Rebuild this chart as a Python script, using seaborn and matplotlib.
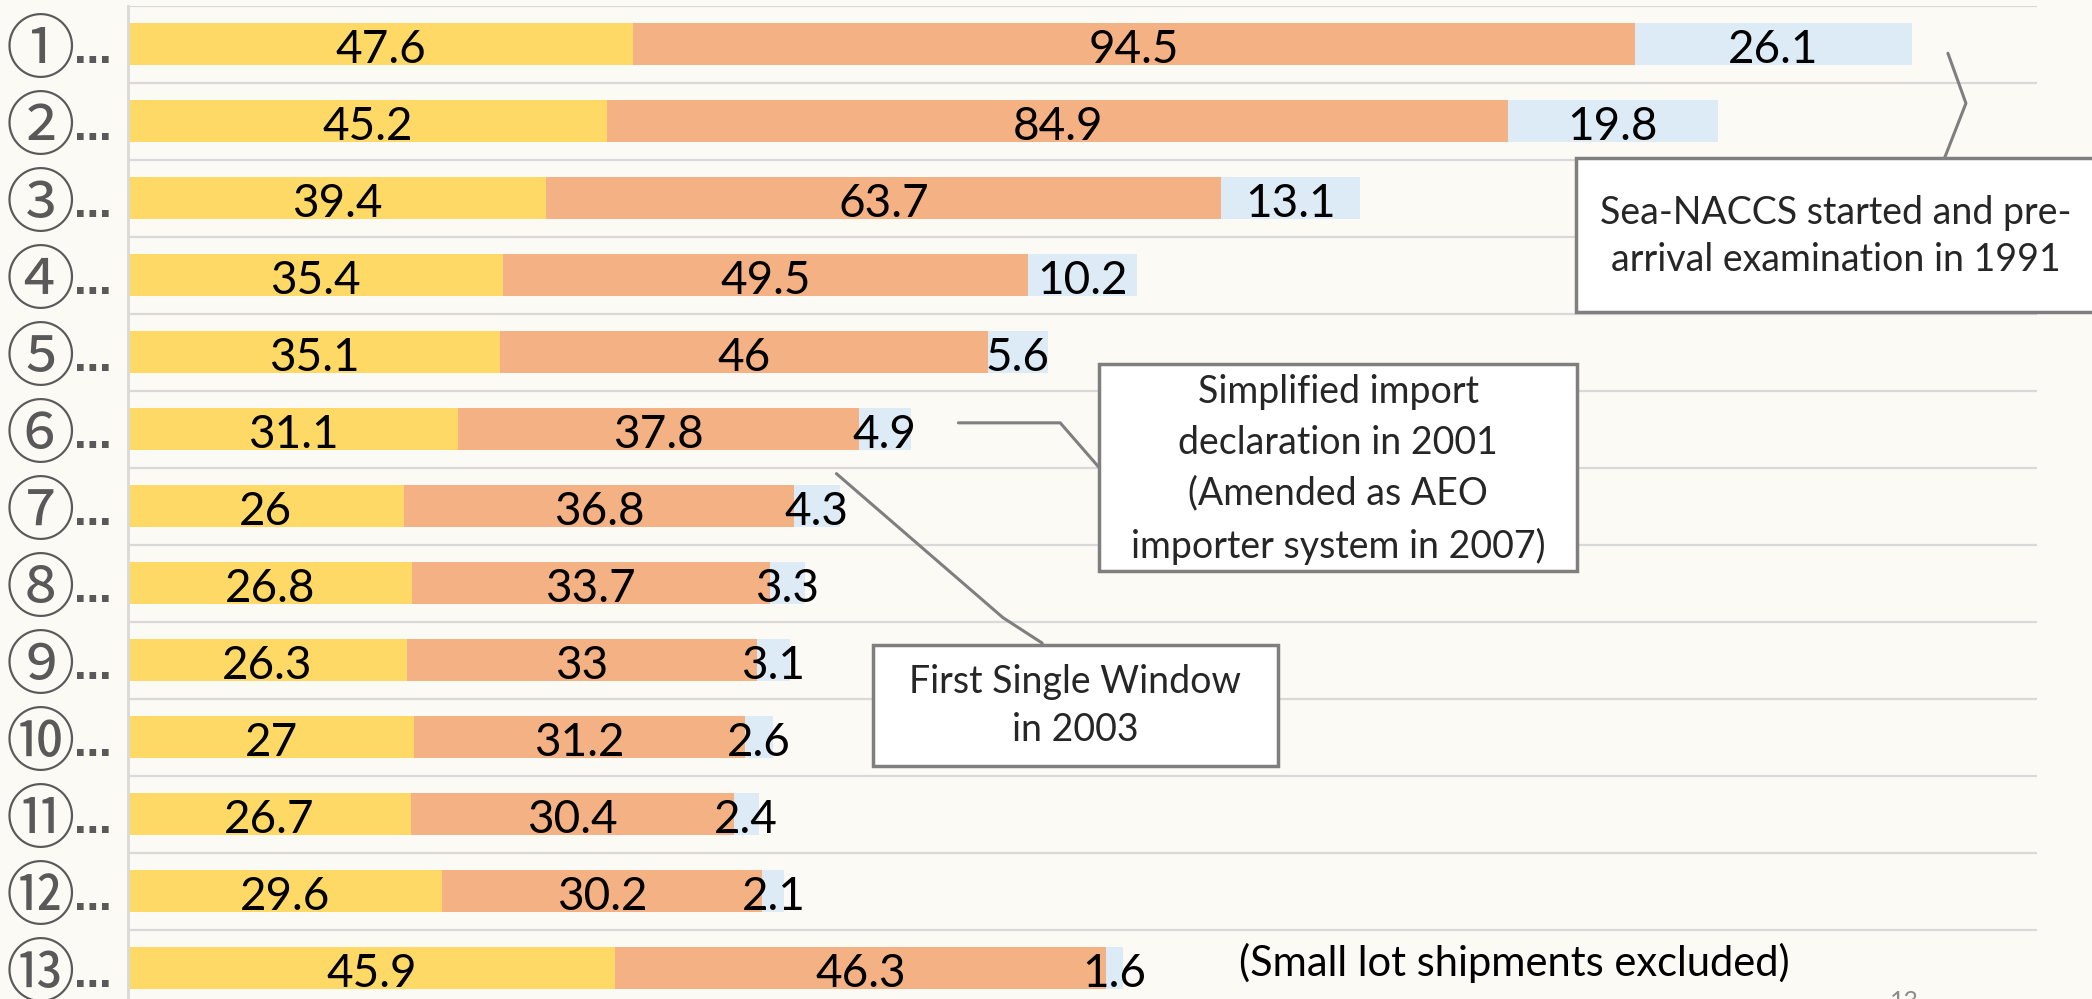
import numpy as np
import pandas as pd
import seaborn as sns
import matplotlib.pyplot as plt
from matplotlib.patches import Rectangle

# stacked bar values (rows 1..13, top to bottom)
labels = ["①", "②", "③", "④", "⑤", "⑥", "⑦", "⑧", "⑨", "⑩", "⑪", "⑫", "⑬"]
yellow_vals = [47.6, 45.2, 39.4, 35.4, 35.1, 31.1, 26, 26.8, 26.3, 27, 26.7, 29.6, 45.9]
orange_vals = [94.5, 84.9, 63.7, 49.5, 46, 37.8, 36.8, 33.7, 33, 31.2, 30.4, 30.2, 46.3]
blue_vals = [26.1, 19.8, 13.1, 10.2, 5.6, 4.9, 4.3, 3.3, 3.1, 2.6, 2.4, 2.1, 1.6]

df = pd.DataFrame({"label": labels, "yellow": yellow_vals,
                   "orange": orange_vals, "blue": blue_vals})
df["yo"] = df["yellow"] + df["orange"]
df["total"] = df["yo"] + df["blue"]

bg = "#FCFAF4"
c_yellow = "#FFD966"
c_orange = "#F4B183"
c_blue = "#DDEBF7"
grid_c = "#D9D9D9"
box_c = "#7F7F7F"
lab_c = "#595959"
num_font = "Lato"

sns.set_theme(style="white")
plt.rcParams["font.family"] = ["Noto Sans CJK JP", "DejaVu Sans"]

fig = plt.figure(figsize=(20.92, 9.99), dpi=100, facecolor=bg)
ax = fig.add_axes([128 / 2092, (999 - 1006.5) / 999, (2037 - 128) / 2092, 1001 / 999])
ax.set_facecolor(bg)

# draw totals first, then overlay the partial sums -> stacked look
sns.barplot(data=df, x="total", y="label", color=c_blue, saturation=1,
            width=0.55, errorbar=None, ax=ax, order=labels)
sns.barplot(data=df, x="yo", y="label", color=c_orange, saturation=1,
            width=0.55, errorbar=None, ax=ax, order=labels)
sns.barplot(data=df, x="yellow", y="label", color=c_yellow, saturation=1,
            width=0.55, errorbar=None, ax=ax, order=labels)
for p in ax.patches:
    p.set_linewidth(0)

ax.set_xlim(0, 180)
ax.set_ylim(12.5, -0.5)
ax.set_xlabel("")
ax.set_ylabel("")
ax.set_xticks([])
ax.set_yticks(np.arange(-0.5, 13, 1), minor=True)
ax.grid(False)
ax.grid(axis="y", which="minor", color=grid_c, lw=1.6)
ax.set_axisbelow(True)
ax.tick_params(axis="y", which="both", length=0, pad=38)
for lab in ax.get_yticklabels():
    lab.set_fontsize(50)
    lab.set_color(lab_c)
for s in ["top", "right", "bottom"]:
    ax.spines[s].set_visible(False)
ax.spines["left"].set_color(grid_c)
ax.spines["left"].set_linewidth(2)

# the "..." after each circled number
for i in range(len(labels)):
    ax.text(-0.0285, i + 0.25, "…", transform=ax.get_yaxis_transform(),
            ha="left", va="baseline", fontsize=27, family="DejaVu Sans",
            weight="bold", color=lab_c)

# segment value labels
def fmt(v):
    return f"{v:g}"

for i in range(len(labels)):
    y0 = yellow_vals[i]
    o0 = orange_vals[i]
    b0 = blue_vals[i]
    for center, v in [(y0 / 2, y0), (y0 + o0 / 2, o0), (y0 + o0 + b0 / 2, b0)]:
        ax.text(center, i + 0.245, fmt(v), ha="center", va="baseline",
                fontsize=33, family=num_font, color="black")

# annotation boxes
def note_box(x0, x1, y0, y1):
    ax.add_patch(Rectangle((x0, y0), x1 - x0, y1 - y0, facecolor="white",
                           edgecolor=box_c, lw=2.5, zorder=5, clip_on=False))

note_box(136.5, 186, 1.48, 3.48)
ax.text(161.0, 2.5, "Sea-NACCS started and pre-\narrival examination in 1991",
        ha="center", va="center", fontsize=27, family=num_font, zorder=6,
        linespacing=1.41)
ax.plot([171.6, 173.3, 171.2], [0.12, 0.77, 1.51], color=box_c, lw=2.2,
        clip_on=False, zorder=4)

note_box(91.6, 136.6, 4.16, 6.84)
ax.text(114.1, 5.52, "Simplified import\ndeclaration in 2001\n(Amended as AEO\nimporter system in 2007)",
        ha="center", va="center", fontsize=27, family=num_font, zorder=6,
        linespacing=1.52)
ax.plot([78.3, 87.9, 91.5], [4.92, 4.92, 5.49], color=box_c, lw=2.2, zorder=4)

note_box(70.2, 108.4, 7.81, 9.38)
ax.text(89.3, 8.60, "First Single Window\nin 2003", ha="center", va="center",
        fontsize=27, family=num_font, zorder=6, linespacing=1.41)
ax.plot([66.8, 82.5, 86.2], [5.58, 7.45, 7.78], color=box_c, lw=2.2, zorder=4)

ax.text(104.8, 11.93, "(Small lot shipments excluded)", ha="left", va="center",
        fontsize=30, family=num_font, color="black")

# slide page number, mostly cut off at the bottom edge
fig.text(1904 / 2092, 0.009, "13", ha="center", va="top", fontsize=18,
         color="#8C8C8C", family=num_font)

fig.savefig("out.png", dpi=100, facecolor=bg)
